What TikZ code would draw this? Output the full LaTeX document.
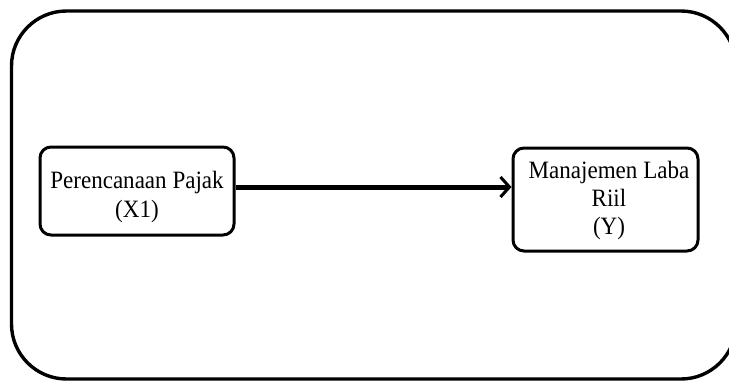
\documentclass[tikz,border=0pt]{standalone}
\usepackage{fontspec}
\setmainfont{Liberation Serif}
\usetikzlibrary{arrows.meta}
\newcommand{\nx}[1]{\scalebox{0.96}[1.04]{#1}}
\begin{document}
\begin{tikzpicture}[x=1pt,y=-1pt,
  box/.style={draw,line width=3pt,rounded corners=11pt,inner sep=0pt},
  txt/.style={align=center,inner sep=0pt,font=\fontsize{24}{29}\selectfont},
  link/.style={line width=5pt,-{Straight Barb[length=9pt,width=20pt,line width=3pt]}}]
\useasboundingbox (0,0) rectangle (729,381);
\draw[line width=3.4pt,rounded corners=55pt] (11.5,11) rectangle (736,379);
\node[box,minimum width=194pt,minimum height=88pt] (a) at (137,191) {};
\node[txt] (at) at (137,197) {\nx{Perencanaan Pajak}\\\nx{(X1)}};
\node[box,minimum width=185pt,minimum height=103pt] (b) at (605.5,199.5) {};
\node[txt,font=\fontsize{24}{28}\selectfont] (bt) at (609,200) {\nx{Manajemen Laba}\\\nx{Riil}\\\nx{(Y)}};
\coordinate (e) at (b.west |- 0,187);
\coordinate (s) at (a.east |- 0,187);
\draw[link] (s) -- (e);
\end{tikzpicture}
\end{document}
